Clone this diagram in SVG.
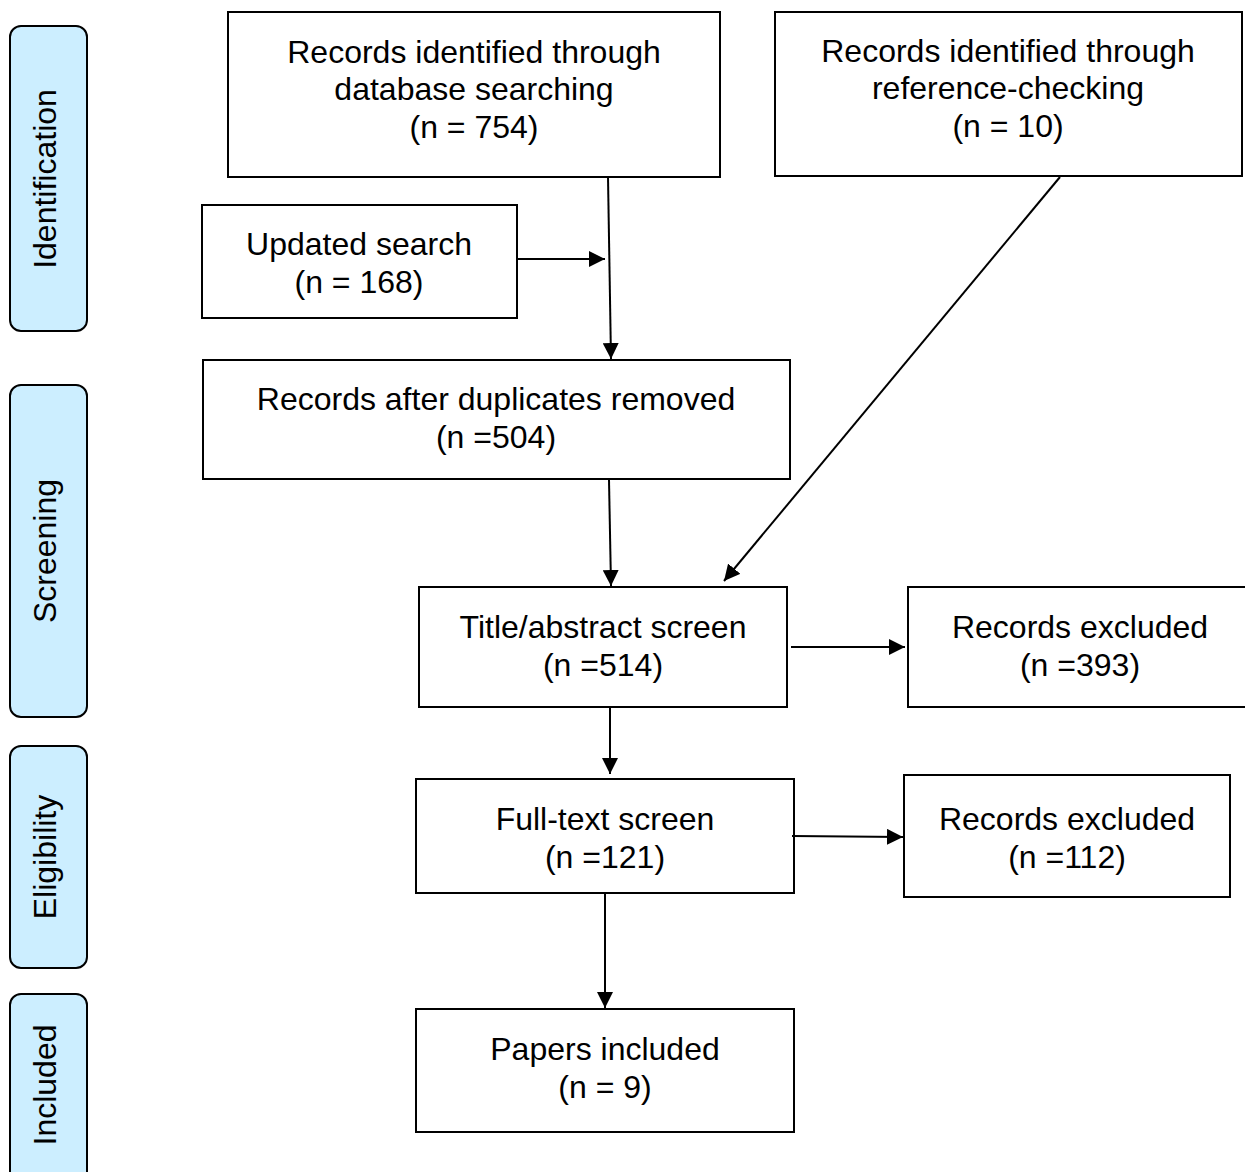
<svg xmlns="http://www.w3.org/2000/svg" width="1245" height="1172" viewBox="0 0 1245 1172">
<style>
.box{fill:#fff;stroke:#000;stroke-width:2}
.side{fill:#cceeff;stroke:#000;stroke-width:2}
.t{font-family:"Liberation Sans",Arial,sans-serif;font-size:32px;fill:#000;text-anchor:middle}
.c{fill:none;stroke:#000;stroke-width:2}
</style>
<defs>
<marker id="ah" viewBox="0 0 16 16" refX="16" refY="8" markerWidth="16" markerHeight="16" markerUnits="userSpaceOnUse" orient="auto">
<path d="M0,0 L16,8 L0,16 Z" fill="#000"/>
</marker>
</defs>
<rect width="1245" height="1172" fill="#fff"/>
<g id="side-identification"><rect class="side" x="10" y="26" width="77" height="305" rx="11"/><text class="t" transform="translate(56,179) rotate(-90)">Identification</text></g>
<g id="side-screening"><rect class="side" x="10" y="385" width="77" height="332" rx="11"/><text class="t" transform="translate(56,551) rotate(-90)">Screening</text></g>
<g id="side-eligibility"><rect class="side" x="10" y="746" width="77" height="222" rx="11"/><text class="t" transform="translate(56,857) rotate(-90)">Eligibility</text></g>
<g id="side-included"><rect class="side" x="10" y="994" width="77" height="190" rx="11"/><text class="t" transform="translate(56,1085) rotate(-90)">Included</text></g>

<g id="db"><rect class="box" x="228" y="12" width="492" height="165"/><text class="t" x="474" y="63">Records identified through</text><text class="t" x="474" y="100">database searching</text><text class="t" x="474" y="138">(n = 754)</text></g>
<g id="ref"><rect class="box" x="775" y="12" width="467" height="164"/><text class="t" x="1008" y="62">Records identified through</text><text class="t" x="1008" y="99">reference-checking</text><text class="t" x="1008" y="137">(n = 10)</text></g>
<g id="upd"><rect class="box" x="202" y="205" width="315" height="113"/><text class="t" x="359" y="255">Updated search</text><text class="t" x="359" y="293">(n = 168)</text></g>
<g id="dup"><rect class="box" x="203" y="360" width="587" height="119"/><text class="t" x="496" y="410">Records after duplicates removed</text><text class="t" x="496" y="448">(n =504)</text></g>
<g id="title"><rect class="box" x="419" y="587" width="368" height="120"/><text class="t" x="603" y="638">Title/abstract screen</text><text class="t" x="603" y="676">(n =514)</text></g>
<g id="exc1"><rect class="box" x="908" y="587" width="340" height="120"/><text class="t" x="1080" y="638">Records excluded</text><text class="t" x="1080" y="676">(n =393)</text></g>
<g id="full"><rect class="box" x="416" y="779" width="378" height="114"/><text class="t" x="605" y="830">Full-text screen</text><text class="t" x="605" y="868">(n =121)</text></g>
<g id="exc2"><rect class="box" x="904" y="775" width="326" height="122"/><text class="t" x="1067" y="830">Records excluded</text><text class="t" x="1067" y="868">(n =112)</text></g>
<g id="inc"><rect class="box" x="416" y="1009" width="378" height="123"/><text class="t" x="605" y="1060">Papers included</text><text class="t" x="605" y="1098">(n = 9)</text></g>

<g id="connectors">
<line class="c" x1="608" y1="177" x2="611" y2="359" marker-end="url(#ah)"/>
<line class="c" x1="517" y1="259" x2="605" y2="259" marker-end="url(#ah)"/>
<line class="c" x1="609" y1="480" x2="611" y2="586" marker-end="url(#ah)"/>
<line class="c" x1="1060" y1="177" x2="724" y2="581" marker-end="url(#ah)"/>
<line class="c" x1="791" y1="647" x2="905" y2="647" marker-end="url(#ah)"/>
<line class="c" x1="610" y1="707" x2="610" y2="774" marker-end="url(#ah)"/>
<line class="c" x1="792" y1="836" x2="903" y2="837" marker-end="url(#ah)"/>
<line class="c" x1="605" y1="893" x2="605" y2="1008" marker-end="url(#ah)"/>
</g>
</svg>
